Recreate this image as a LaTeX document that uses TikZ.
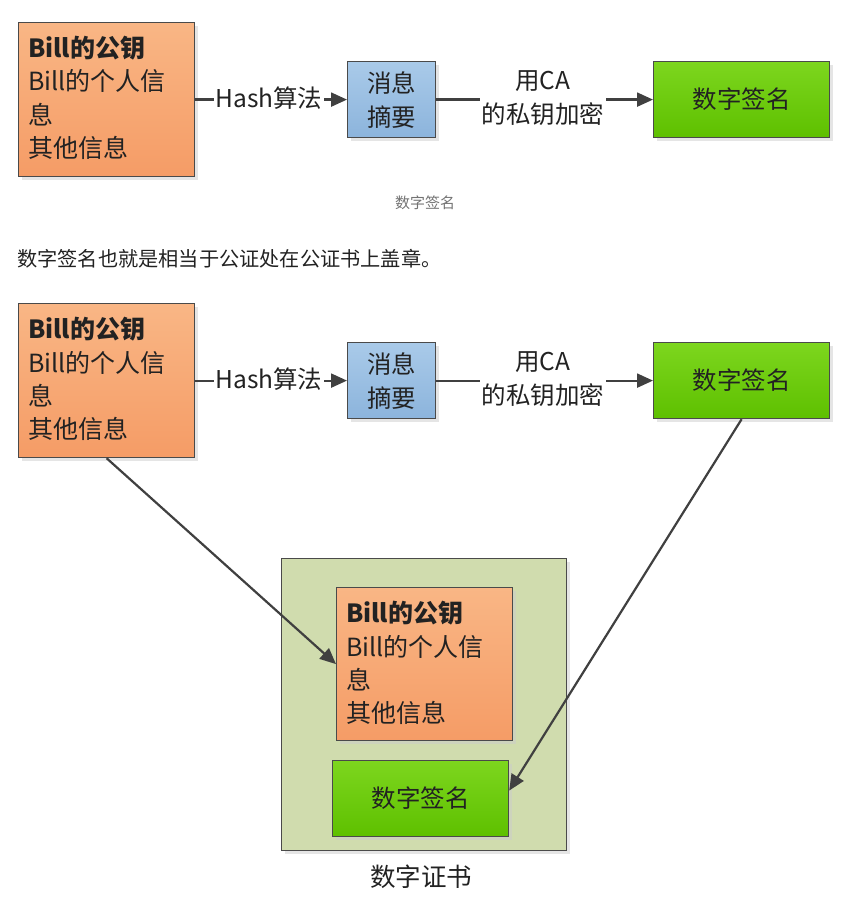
\documentclass[tikz,border=0pt]{standalone}
\usepackage{fontspec}
\setmainfont{Noto Sans CJK SC}
\usetikzlibrary{shadows,arrows.meta,calc}
\definecolor{bordergray}{HTML}{4A4A4A}
\definecolor{orangetop}{HTML}{F9B685}
\definecolor{orangebot}{HTML}{F59C66}
\definecolor{bluetop}{HTML}{A9CAE9}
\definecolor{bluebot}{HTML}{8CB4DC}
\definecolor{greentop}{HTML}{7DD61E}
\definecolor{greenbot}{HTML}{5EC000}
\definecolor{certfill}{HTML}{D0DCAE}
\definecolor{arrowgray}{HTML}{404040}
\definecolor{txt}{HTML}{222222}
\begin{document}
\begin{tikzpicture}[x=1pt,y=-1pt,
  box/.style={draw=bordergray, line width=1.2pt, inner sep=0pt, anchor=north west,
    drop shadow={shadow xshift=3pt, shadow yshift=-3pt, fill=black!20, opacity=0.5}},
  obox/.style={box, top color=orangetop, bottom color=orangebot, minimum width=176pt, minimum height=154pt},
  bbox/.style={box, top color=bluetop, bottom color=bluebot, minimum width=88pt, minimum height=76pt},
  gbox/.style={box, top color=greentop, bottom color=greenbot, minimum width=176pt, minimum height=76pt},
  cbox/.style={box, fill=certfill, minimum width=285pt, minimum height=292pt},
  btext/.style={font=\fontsize{25pt}{33.3pt}\selectfont, text=txt, align=left, inner sep=0pt},
  ctext/.style={font=\fontsize{24.5pt}{34pt}\selectfont, text=txt, align=center, inner sep=0pt},
  lbl/.style={font=\fontsize{24.5pt}{34pt}\selectfont, text=txt, align=center, fill=white, inner sep=2pt},
  arr/.style={draw=arrowgray, line width=2.2pt, -{Triangle[length=16pt,width=14pt]}},
]
\useasboundingbox[fill=white] (0,0) rectangle (852,904);

% ---------- top figure ----------
\node[obox] (o1) at (18,22) {};
\node[btext, anchor=west] (o1t) at (28,98) {\textbf{Bill的公钥}\\Bill的个人信\\息\\其他信息};
\node[bbox] (b1) at (347,61) {};
\node[ctext] (b1t) at (b1.center) {消息\\摘要};
\node[gbox] (g1) at (653,61) {};
\node[ctext] (g1t) at (g1.center) {数字签名};
\draw[arr] (o1.east |- b1.west) -- (b1.west);
\node[lbl] (h1) at (269,98) {Hash算法};
\draw[arr] (b1.east) -- (g1.west);
\node[lbl] (c1) at (543,98) {用CA\\的私钥加密};

\node[font=\fontsize{15pt}{17pt}\selectfont, text=black!55, inner sep=0pt] (cap1) at (425,203) {数字签名};
\node[font=\fontsize{20.2pt}{22pt}\selectfont, text=txt, anchor=west, inner sep=0pt] (sent) at (17,259) {数字签名也就是相当于公证处在公证书上盖章。};

% ---------- bottom figure ----------
\node[obox] (o2) at (18,303) {};
\node[btext, anchor=west] (o2t) at (28,379) {\textbf{Bill的公钥}\\Bill的个人信\\息\\其他信息};
\node[bbox] (b2) at (347,342) {};
\node[ctext] (b2t) at (b2.center) {消息\\摘要};
\node[gbox] (g2) at (653,342) {};
\node[ctext] (g2t) at (g2.center) {数字签名};
\draw[arr] (o2.east |- b2.west) -- (b2.west);
\node[lbl] (h2) at (269,379) {Hash算法};
\draw[arr] (b2.east) -- (g2.west);
\node[lbl] (c2) at (543,379) {用CA\\的私钥加密};

\node[cbox] (cert) at (281,558) {};
\node[obox, minimum height=153pt] (io) at (336,587) {};
\node[btext, anchor=west] (iot) at (346,663) {\textbf{Bill的公钥}\\Bill的个人信\\息\\其他信息};
\node[gbox] (ig) at (332,760) {};
\node[ctext] (igt) at (ig.center) {数字签名};
\node[font=\fontsize{25.5pt}{28pt}\selectfont, text=txt, inner sep=0pt] (cap2) at (421,877) {数字证书};

\draw[arr] (o2.south) -- (io.west);
\draw[arr] (g2.south) -- ($(ig.east)+(0,-8)$);
\end{tikzpicture}
\end{document}
